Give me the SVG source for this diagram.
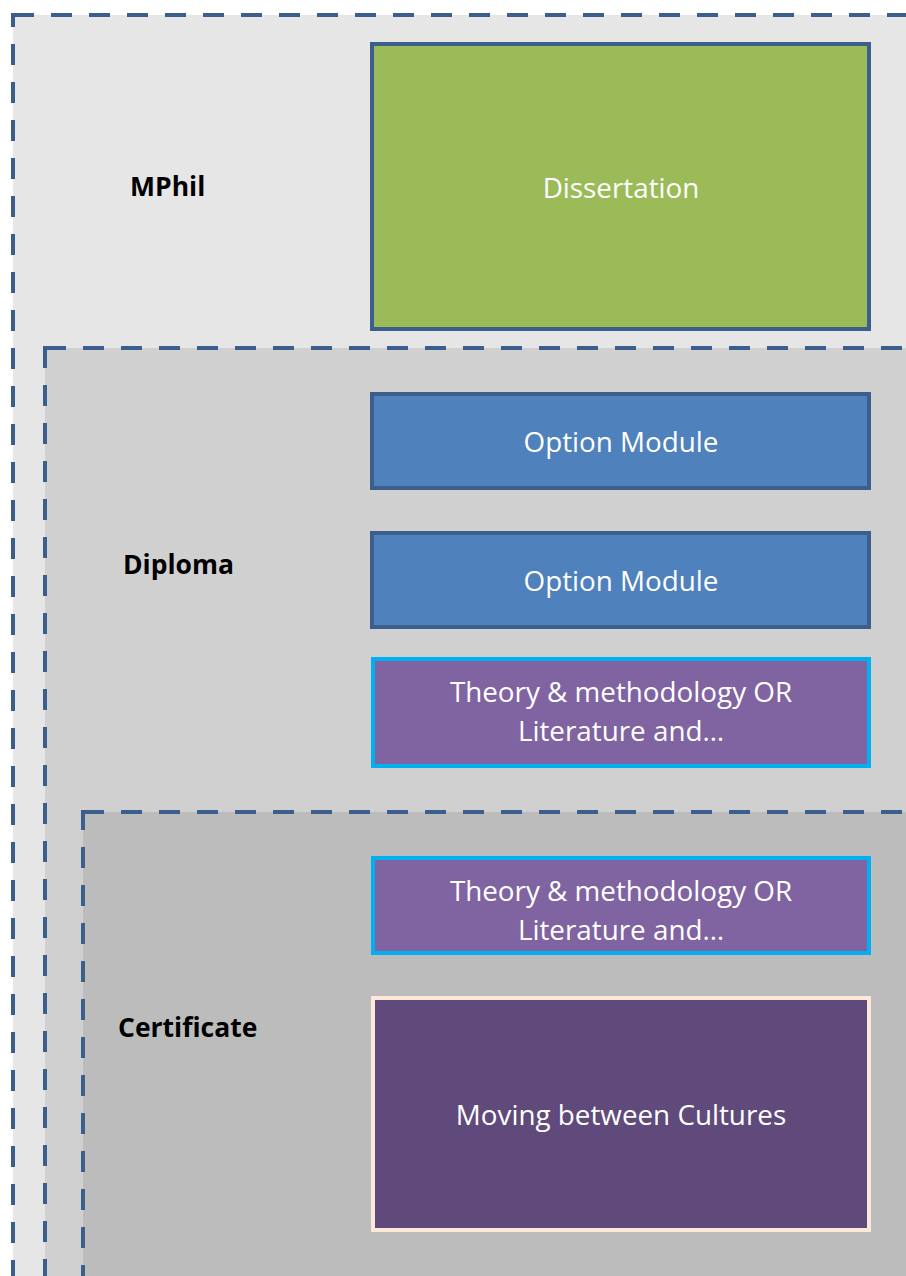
<svg xmlns="http://www.w3.org/2000/svg" width="906" height="1276" viewBox="0 0 906 1276">
<style>
.lvl{stroke:#3b5e8c;stroke-width:4;stroke-dasharray:21 17}
.box{stroke-width:4}
.t{font-family:"Open Sans","Liberation Sans",sans-serif;font-size:27.8px;fill:#ffffff;text-anchor:middle}
.lab{font-family:"Open Sans","Liberation Sans",sans-serif;font-size:26.5px;font-weight:bold;fill:#000000}
</style>
<rect width="906" height="1276" fill="#ffffff"/>
<g id="mphil">
<rect class="lvl" x="13" y="15" width="1000" height="1400" fill="#e6e6e6"/>
<text class="lab" x="130" y="196">MPhil</text>
</g>
<g id="diploma">
<rect class="lvl" x="45" y="348" width="1000" height="1100" fill="#d0d0d0"/>
<text class="lab" x="123" y="574">Diploma</text>
</g>
<g id="certificate">
<rect class="lvl" x="83" y="812" width="1000" height="700" fill="#bcbcbc"/>
<text class="lab" x="118" y="1037">Certificate</text>
</g>
<g id="dissertation">
<rect class="box" x="372" y="44" width="497" height="285" fill="#9bbb59" stroke="#3b5e8c"/>
<text class="t" x="621" y="198">Dissertation</text>
</g>
<g id="option1">
<rect class="box" x="372" y="394" width="497" height="94" fill="#4f81bd" stroke="#3b5e8c"/>
<text class="t" x="621" y="452">Option Module</text>
</g>
<g id="option2">
<rect class="box" x="372" y="533" width="497" height="94" fill="#4f81bd" stroke="#3b5e8c"/>
<text class="t" x="621" y="591">Option Module</text>
</g>
<g id="theory1">
<rect class="box" x="373" y="659" width="496" height="107" fill="#8064a2" stroke="#00b0f0" stroke-width="5"/>
<text class="t" x="621" y="702">Theory &amp; methodology OR</text>
<text class="t" x="621" y="741">Literature and…</text>
</g>
<g id="theory2">
<rect class="box" x="373" y="858" width="496" height="95" fill="#8064a2" stroke="#00b0f0" stroke-width="5"/>
<text class="t" x="621" y="901">Theory &amp; methodology OR</text>
<text class="t" x="621" y="940">Literature and…</text>
</g>
<g id="moving">
<rect class="box" x="373" y="998" width="496" height="232" fill="#604a7b" stroke="#fde9d9"/>
<text class="t" x="621" y="1125">Moving between Cultures</text>
</g>
<g id="connectors"></g>
</svg>
